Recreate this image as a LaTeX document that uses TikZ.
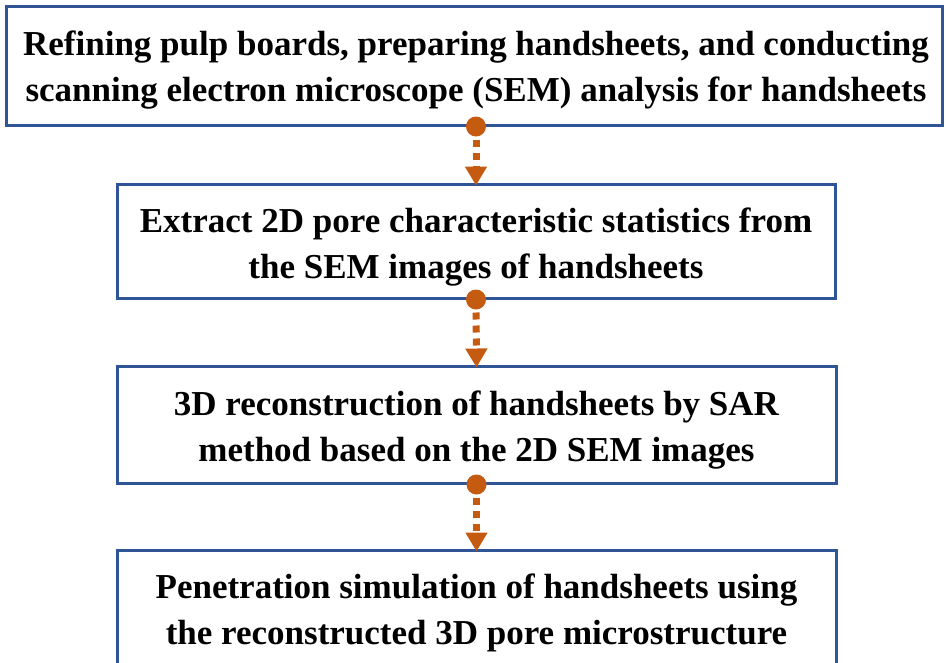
\documentclass[tikz,border=0pt]{standalone}
\usepackage{fontspec}
\setmainfont{Liberation Serif}
\usetikzlibrary{arrows.meta,calc}
\definecolor{boxblue}{RGB}{47,85,151}
\definecolor{conorange}{RGB}{197,90,17}
\begin{document}
\begin{tikzpicture}[x=1pt,y=-1pt,
  stepbox/.style={draw=boxblue,line width=3pt,fill=white,inner sep=0pt},
  steptext/.style={align=center,inner sep=0pt,font=\bfseries\fontsize{35}{46}\selectfont},
  conn/.style={conorange,line width=7pt,dash pattern=on 7pt off 6pt,
    shorten <=13pt,shorten >=-3pt,-{Triangle[width=21pt,length=19pt]}},
  dotmark/.style={circle,fill=conorange,inner sep=0pt,minimum size=20pt}]
\useasboundingbox (0,0) rectangle (946,662);
\clip (0,0) rectangle (946,662);
\node[stepbox,minimum width=936pt,minimum height=119pt] (b1) at (474,65.5) {};
\node[stepbox,minimum width=718pt,minimum height=114pt] (b2) at (476,241) {};
\node[stepbox,minimum width=719pt,minimum height=117pt] (b3) at (476.5,424.5) {};
\node[stepbox,minimum width=719pt,minimum height=116pt] (b4) at (476.5,608) {};
\node[steptext] (t1) at (476,70)
  {Refining pulp boards, preparing handsheets, and conducting\\scanning electron microscope (SEM) analysis for handsheets};
\node[steptext] (t2) at (476,247)
  {Extract 2D pore characteristic statistics from\\the SEM images of handsheets};
\node[steptext] (t3) at (476.5,430)
  {3D reconstruction of handsheets by SAR\\method based on the 2D SEM images};
\node[steptext] (t4) at (476.5,613)
  {Penetration simulation of handsheets using\\the reconstructed 3D pore microstructure};
\draw[conn] (b1.south -| b2.south) -- (b2.north);
\draw[conn] (b2.south) -- (b3.north);
\draw[conn] (b3.south) -- (b4.north);
\node[dotmark] (d1) at (b1.south -| b2.south) {};
\node[dotmark] (d2) at (b2.south) {};
\node[dotmark] (d3) at (b3.south) {};
\end{tikzpicture}
\end{document}
